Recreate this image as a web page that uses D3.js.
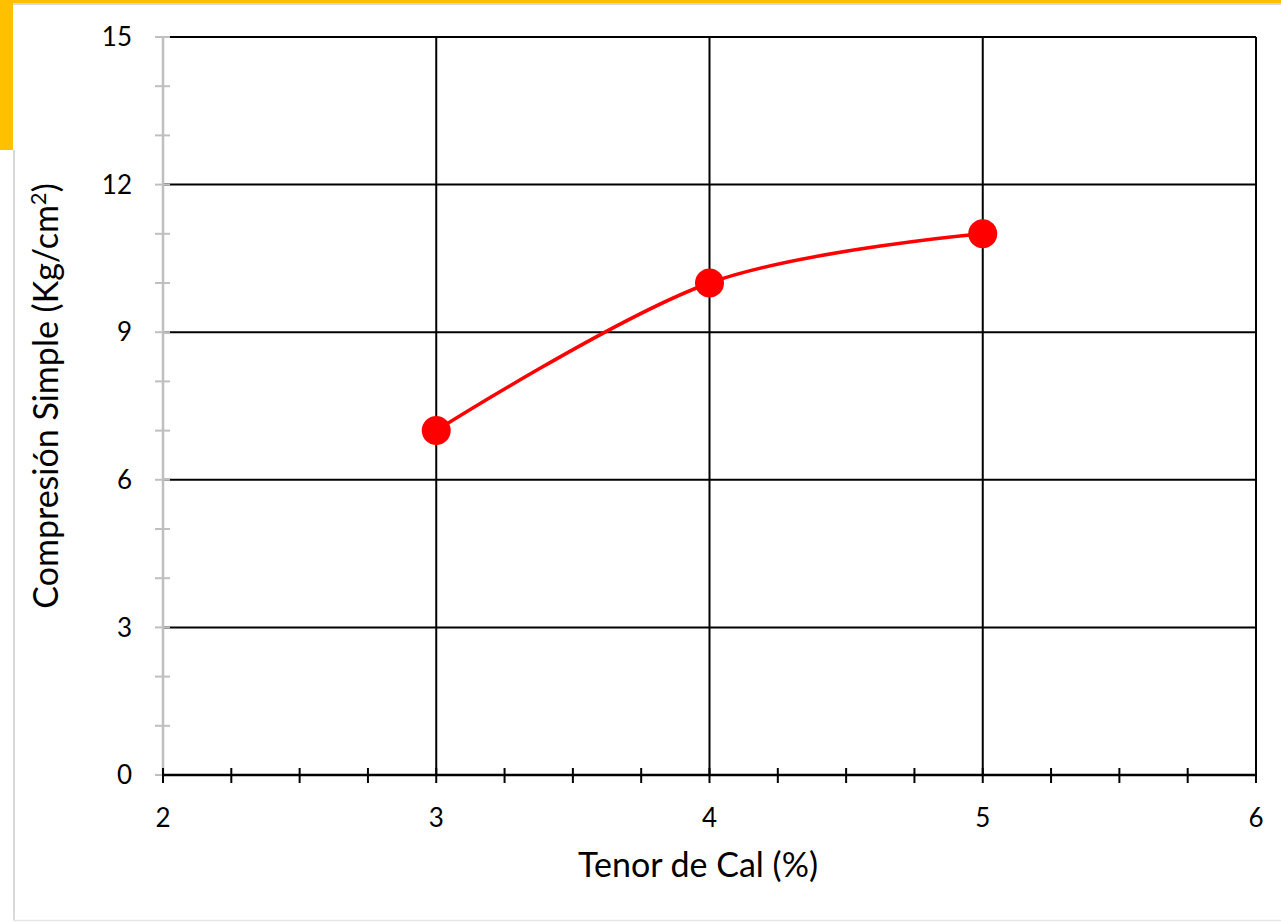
<!DOCTYPE html>
<html>
<head>
<meta charset="utf-8">
<script src="https://cdn.jsdelivr.net/npm/d3@7"></script>
<style>
  html, body { margin: 0; padding: 0; background: #fff; }
  svg { display: block; font-family: Lato, "Open Sans", sans-serif; }
</style>
</head>
<body>
<div id="container"></div>
<script>
/* CONSTANTS AND GLOBALS */
const width = 1281;
const height = 922;
const margin = { top: 37, bottom: 147, left: 163, right: 25 };

// data
const tenor = [3, 4, 5];
const compresion = [7, 10, 11];
const xTicks = [2, 3, 4, 5, 6];
const yTicks = [0, 3, 6, 9, 12, 15];

const svg = d3.select("#container")
  .append("svg")
  .attr("width", width)
  .attr("height", height);

// slide frame: yellow corner band and light grey border
svg.append("rect").attr("x", 0).attr("y", 0).attr("width", width).attr("height", 3).attr("fill", "#FFC000");
svg.append("rect").attr("x", 0).attr("y", 0).attr("width", 13).attr("height", 150).attr("fill", "#FFC000");
svg.append("line").attr("x1", 13).attr("x2", width).attr("y1", 4).attr("y2", 4)
  .attr("stroke", "#d9d9d9").attr("stroke-width", 2);
svg.append("line").attr("x1", 14).attr("x2", 14).attr("y1", 150).attr("y2", 921)
  .attr("stroke", "#d9d9d9").attr("stroke-width", 2);
svg.append("line").attr("x1", 13).attr("x2", width).attr("y1", 920.5).attr("y2", 920.5)
  .attr("stroke", "#e6e6e6").attr("stroke-width", 1.5);

/* SCALES */
const xScale = d3.scaleLinear()
  .domain([2, 6])
  .range([margin.left, width - margin.right]);

const yScale = d3.scaleLinear()
  .domain([0, 15])
  .range([height - margin.bottom, margin.top]);

const x0 = xScale(2), x1 = xScale(6), y0 = yScale(0), y1 = yScale(15);

// gridlines
svg.append("g")
  .selectAll("line")
  .data(yTicks.filter(d => d > 0))
  .join("line")
  .attr("x1", x0).attr("x2", x1)
  .attr("y1", d => yScale(d)).attr("y2", d => yScale(d))
  .attr("stroke", "#000").attr("stroke-width", 2);

svg.append("g")
  .selectAll("line")
  .data(xTicks.filter(d => d > 2))
  .join("line")
  .attr("y1", y0).attr("y2", y1)
  .attr("x1", d => xScale(d)).attr("x2", d => xScale(d))
  .attr("stroke", "#000").attr("stroke-width", 2);

// y axis (grey, minor ticks every 1)
svg.append("g")
  .selectAll("line")
  .data(d3.range(0, 16))
  .join("line")
  .attr("x1", x0 - 8).attr("x2", x0 + 7)
  .attr("y1", d => yScale(d)).attr("y2", d => yScale(d))
  .attr("stroke", "#bfbfbf").attr("stroke-width", 2);
svg.append("line")
  .attr("x1", x0).attr("x2", x0).attr("y1", y1 - 1).attr("y2", y0)
  .attr("stroke", "#bfbfbf").attr("stroke-width", 2.5);

// x axis (black, minor ticks every 0.25)
svg.append("g")
  .selectAll("line")
  .data(d3.range(2, 6.01, 0.25))
  .join("line")
  .attr("x1", d => xScale(d)).attr("x2", d => xScale(d))
  .attr("y1", y0 - 7).attr("y2", y0 + 8)
  .attr("stroke", "#000").attr("stroke-width", 2);
svg.append("line")
  .attr("x1", x0).attr("x2", x1 + 1).attr("y1", y0).attr("y2", y0)
  .attr("stroke", "#000").attr("stroke-width", 2.5);

// tick labels
svg.append("g")
  .selectAll("text")
  .data(yTicks)
  .join("text")
  .attr("x", 132)
  .attr("y", d => yScale(d))
  .attr("dy", "0.35em")
  .attr("text-anchor", "end")
  .attr("font-size", 26)
  .attr("fill", "#000")
  .text(d => d);

svg.append("g")
  .selectAll("text")
  .data(xTicks)
  .join("text")
  .attr("x", d => xScale(d))
  .attr("y", 827)
  .attr("text-anchor", "middle")
  .attr("font-size", 26)
  .attr("fill", "#000")
  .text(d => d);

// axis titles
svg.append("text")
  .attr("x", 698)
  .attr("y", 877)
  .attr("text-anchor", "middle")
  .attr("font-size", 34)
  .attr("fill", "#000")
  .text("Tenor de Cal (%)");

const yTitle = svg.append("text")
  .attr("transform", "translate(58,396) rotate(-90)")
  .attr("text-anchor", "middle")
  .attr("font-size", 34)
  .attr("fill", "#000");
yTitle.append("tspan").text("Compresión Simple (Kg/cm");
yTitle.append("tspan").attr("font-size", 22).attr("dy", -12).text("2");
yTitle.append("tspan").attr("dy", 12).text(")");

/* SERIES */
const points = tenor.map((t, i) => ({ x: t, y: compresion[i] }));

const line = d3.line()
  .x(d => xScale(d.x))
  .y(d => yScale(d.y))
  .curve(d3.curveCardinal.tension(0));

svg.append("path")
  .datum(points)
  .attr("d", line)
  .attr("fill", "none")
  .attr("stroke", "#ff0000")
  .attr("stroke-width", 3.5);

svg.append("g")
  .selectAll("circle")
  .data(points)
  .join("circle")
  .attr("cx", d => xScale(d.x))
  .attr("cy", d => yScale(d.y))
  .attr("r", 14.5)
  .attr("fill", "#ff0000");
</script>
</body>
</html>
